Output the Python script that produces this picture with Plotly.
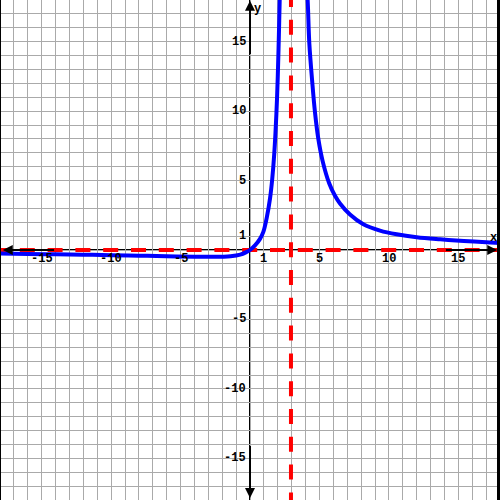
import plotly.graph_objects as go

# ---- data ----
left_x = [-18, -16, -14, -12, -10, -8, -6, -4, -3, -2, -1.4, -0.7, -0.3, 0.0,
          0.36, 0.72, 0.96, 1.2, 1.44, 1.6, 1.75, 1.9, 2.0, 2.08, 2.15, 2.2]
left_y = [-0.26, -0.28, -0.31, -0.34, -0.37, -0.41, -0.45, -0.48, -0.49, -0.48,
          -0.45, -0.33, -0.17, 0.0, 0.33, 0.8, 1.3, 2.3, 3.7, 5.1, 7.0, 9.8,
          12.5, 15.5, 18.5, 21]
right_x = [3.95, 4.15, 4.27, 4.49, 4.68, 4.92, 5.23, 5.7, 6.12, 6.48, 7.2, 8.16,
           9.36, 10.56, 12.0, 13.7, 15.4, 17.3, 18.0]
right_y = [21, 18, 14.9, 12.0, 9.9, 8.0, 6.4, 4.8, 3.9, 3.35, 2.55, 1.85,
           1.4, 1.13, 0.92, 0.77, 0.65, 0.54, 0.5]

v_asym = 2.95
h_asym = 0.0

x_ticks = [-15, -10, -5, 1, 5, 10, 15]
y_ticks = [15, 10, 5, 1, -5, -10, -15]

R = 18
ppu = 500 / (2 * R)
dash_off = 8 / ppu

fig = go.Figure()

# asymptotes (red dashed)
fig.add_trace(go.Scatter(x=[-R - dash_off, R], y=[h_asym, h_asym], mode="lines",
                         line=dict(color="#ff0000", width=4, dash="15px,12.8px"),
                         hoverinfo="skip", showlegend=False))
fig.add_trace(go.Scatter(x=[v_asym, v_asym], y=[R + dash_off, -R], mode="lines",
                         line=dict(color="#ff0000", width=4, dash="15px,12.8px"),
                         hoverinfo="skip", showlegend=False))

# curve
fig.add_trace(go.Scatter(x=left_x, y=left_y, mode="lines",
                         line=dict(color="#0000ff", width=4, shape="spline", smoothing=1.0),
                         hoverinfo="skip", showlegend=False))
fig.add_trace(go.Scatter(x=right_x, y=right_y, mode="lines",
                         line=dict(color="#0000ff", width=4, shape="spline", smoothing=1.0),
                         hoverinfo="skip", showlegend=False))

font = dict(family="Liberation Mono", size=12, color="black", weight=700)
ann = []
for t in x_ticks:
    ann.append(dict(x=t, y=0, xref="x", yref="y", text=str(t),
                    showarrow=False, xanchor="center", yanchor="middle",
                    yshift=-8.5, font=font))
for t in y_ticks:
    ann.append(dict(x=0, y=t, xref="x", yref="y", text=str(t),
                    showarrow=False, xanchor="right", yanchor="middle",
                    xshift=-2, font=font))
ann.append(dict(x=17.5, y=0, text="x", showarrow=False, yshift=12, font=font))
ann.append(dict(x=0, y=17.35, text="y", showarrow=False, xshift=7.5, font=font))

# arrowheads on axes
for (tx, ty, axv, ayv) in [(17.8, 0, 14, 0), (-17.8, 0, -14, 0),
                           (0, 17.95, 0, 14), (0, -17.85, 0, -14)]:
    ann.append(dict(x=tx, y=ty, ax=axv, ay=ayv, axref="x", ayref="y", xref="x", yref="y",
                    text="", showarrow=True, arrowhead=2, arrowsize=1.0,
                    arrowwidth=2, arrowcolor="black", standoff=0))

shapes = [
    dict(type="line", xref="x", yref="y", x0=-R, x1=R, y0=0, y1=0,
         line=dict(color="black", width=2), layer="below"),
    dict(type="line", xref="x", yref="y", x0=0, x1=0, y0=-R, y1=R,
         line=dict(color="black", width=2), layer="below"),
    dict(type="line", xref="paper", yref="paper", x0=0, x1=0, y0=0, y1=1,
         line=dict(color="black", width=2)),
    dict(type="line", xref="paper", yref="paper", x0=1, x1=1, y0=0, y1=1,
         line=dict(color="black", width=6)),
]

fig.update_layout(
    width=500, height=500, margin=dict(l=0, r=0, t=0, b=0),
    paper_bgcolor="white", plot_bgcolor="white",
    xaxis=dict(range=[-R, R], dtick=1, tick0=0, showgrid=True, gridcolor="#aaaaaa",
               gridwidth=1, zeroline=False, showticklabels=False, ticks="",
               showline=False, fixedrange=True),
    yaxis=dict(range=[-R, R], dtick=1, tick0=0, showgrid=True, gridcolor="#aaaaaa",
               gridwidth=1, zeroline=False, showticklabels=False, ticks="",
               showline=False, fixedrange=True),
    annotations=ann, shapes=shapes, showlegend=False,
)

fig.write_html("out.html", config={"displayModeBar": False},
               post_script="document.body.style.margin='0';document.body.style.overflow='hidden';")
